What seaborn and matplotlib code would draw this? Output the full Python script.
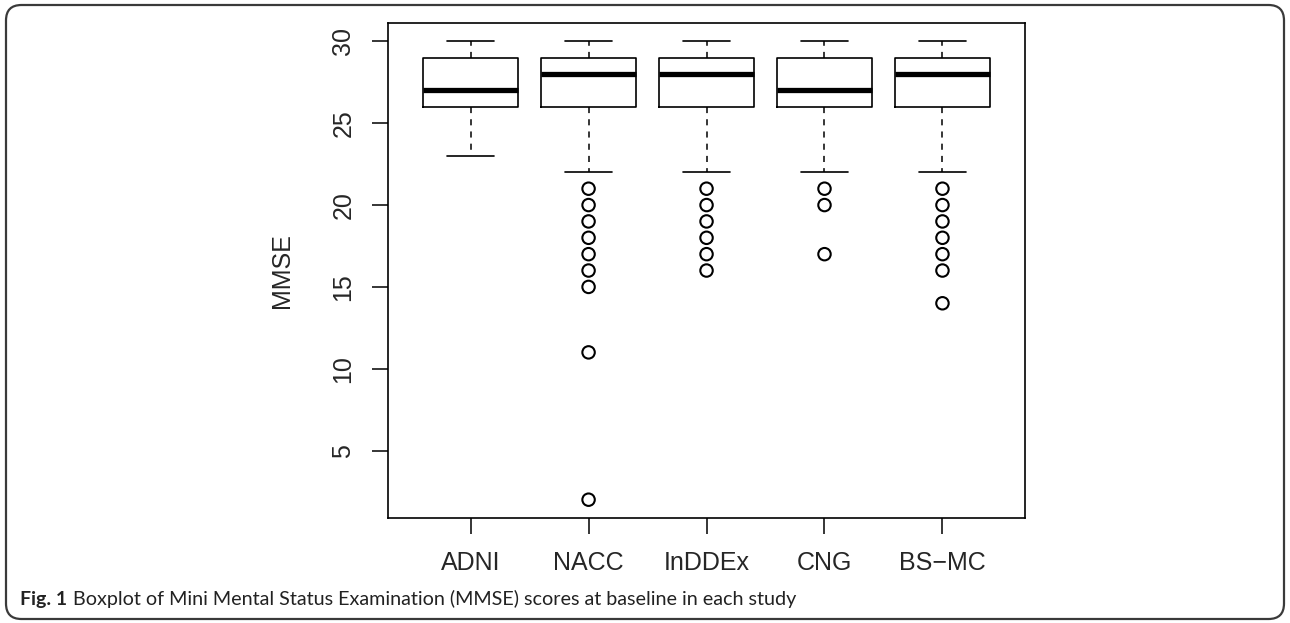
import matplotlib
matplotlib.use("Agg")
import matplotlib.pyplot as plt
import seaborn as sns
import pandas as pd
from matplotlib.patches import FancyBboxPatch

# Box statistics (MMSE at baseline)
studies = ["ADNI", "NACC", "InDDEx", "CNG", "BS\u2212MC"]
whisker_low = [23, 22, 22, 22, 22]
q1 = [26, 26, 26, 26, 26]
median = [27, 28, 28, 27, 28]
q3 = [29, 29, 29, 29, 29]
whisker_high = [30, 30, 30, 30, 30]
outliers = [
    [],
    [21, 20, 19, 18, 17, 16, 15, 11, 2],
    [21, 20, 19, 18, 17, 16],
    [21, 20, 17],
    [21, 20, 19, 18, 17, 16, 14],
]
y_ticks = [5, 10, 15, 20, 25, 30]
caption_bold = "Fig. 1"
caption_text = "Boxplot of Mini Mental Status Examination (MMSE) scores at baseline in each study"

sns.set_style("white")
plt.rcParams["font.family"] = ["Liberation Sans", "DejaVu Sans"]

fig = plt.figure(figsize=(12.9, 6.23), dpi=100)
ax = fig.add_axes([0.3008, 0.1685, 0.4938, 0.7945])

stats = []
for i, name in enumerate(studies):
    stats.append({
        "label": name,
        "whislo": whisker_low[i],
        "q1": q1[i],
        "med": median[i],
        "q3": q3[i],
        "whishi": whisker_high[i],
        "fliers": [],
    })

positions = list(range(1, len(studies) + 1))
ax.bxp(
    stats,
    positions=positions,
    widths=0.8,
    showfliers=False,
    boxprops=dict(color="black", linewidth=1.2),
    medianprops=dict(color="black", linewidth=3.8, solid_capstyle="butt"),
    whiskerprops=dict(color="black", linewidth=1.1, linestyle=(0, (4, 4))),
    capprops=dict(color="black", linewidth=1.2),
    capwidths=0.4,
)

# outliers as open circles
out_df = pd.DataFrame(
    [(positions[i], v) for i, vals in enumerate(outliers) for v in vals],
    columns=["pos", "mmse"],
)
sns.scatterplot(
    data=out_df, x="pos", y="mmse", ax=ax, marker="o", s=80,
    facecolor="none", edgecolor="black", linewidth=1.5, legend=False,
)

ax.set_xlim(0.3, 5.7)
ax.set_ylim(0.88, 31.12)
ax.set_xticks(positions)
ax.set_xticklabels(studies)
ax.set_yticks(y_ticks)
ax.set_yticklabels([str(t) for t in y_ticks], rotation=90, va="center")
ax.set_xlabel("")
ax.set_ylabel("MMSE", fontsize=18, labelpad=27)
ax.tick_params(axis="both", which="both", length=11.5, width=1.1, color="black",
               labelsize=18, direction="out", left=True, bottom=True)
ax.tick_params(axis="y", pad=12)
ax.tick_params(axis="x", pad=12)
for sp in ax.spines.values():
    sp.set_visible(True)
    sp.set_color("black")
    sp.set_linewidth(1.2)

# rounded figure border
border = FancyBboxPatch((6 / 1290, 4 / 623), 1278 / 1290, 614 / 623,
                        boxstyle="round,pad=0,rounding_size=0.012",
                        transform=fig.transFigure, fill=False,
                        edgecolor="#3a3a3a", linewidth=1.6, mutation_aspect=1290 / 623)
fig.patches.append(border)

# caption with bold figure number
t1 = fig.text(20 / 1290, 18 / 623, caption_bold, fontsize=14, fontweight="bold",
              family=["Lato", "DejaVu Sans"], color="#222222", va="baseline")
fig.canvas.draw()
bb = t1.get_window_extent()
fig.text((bb.x1 + 6) / 1290, 18 / 623, caption_text, fontsize=14.2,
         family=["Lato", "DejaVu Sans"], color="#222222", va="baseline")

fig.savefig("out.png", dpi=100)
